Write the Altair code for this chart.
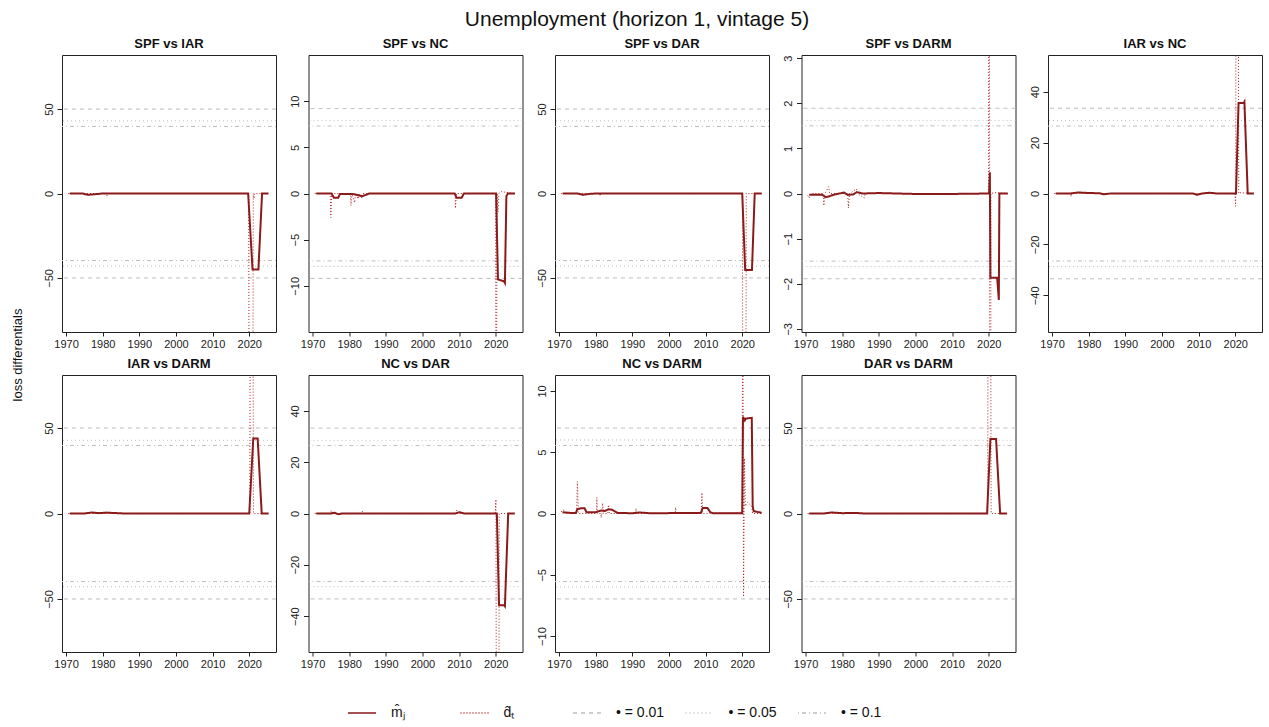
import altair as alt
import pandas as pd

FONT = "Liberation Sans"

# legend keys (labels) and styles
KEYS = ["m\u0302\u2c7c", "d\u0302\u209c", "\u2022 = 0.01", "\u2022 = 0.05", "\u2022 = 0.1"]
COLORS = ["#8B1A1A", "#B22222", "#BEBEBE", "#BEBEBE", "#BEBEBE"]
DASHES = [[1, 0], [1, 2], [4, 4], [1, 3], [1, 3, 4, 3]]

PANELS = ["SPF vs IAR", "SPF vs NC", "SPF vs DAR", "SPF vs DARM", "IAR vs NC",
          "IAR vs DARM", "NC vs DAR", "NC vs DARM", "DAR vs DARM"]

# symmetric y-limits of each panel
YLIM = [82, 15, 82, 3.07, 54.4, 81, 54, 11.3, 81]
# critical values (0.01, 0.05, 0.1)
CRIT_01 = [50, 9.2, 50, 1.89, 33.5, 50, 33.3, 6.97, 50]
CRIT_05 = [43, 7.9, 43, 1.62, 28.7, 42.8, 28.5, 6.0, 42.8]
CRIT_10 = [39.7, 7.3, 39.7, 1.50, 26.5, 39.8, 26.5, 5.55, 39.8]
YTICKS = [[-50, 0, 50], [-10, -5, 0, 5, 10], [-50, 0, 50], [-3, -2, -1, 0, 1, 2, 3],
          [-40, -20, 0, 20, 40], [-50, 0, 50], [-40, -20, 0, 20, 40],
          [-10, -5, 0, 5, 10], [-50, 0, 50]]
XTICKS = [1970, 1980, 1990, 2000, 2010, 2020]

# m_j (solid) and d_t (dotted) series
M_X = [
    [1971, 1974.5, 1976, 1978, 1980, 2019.7, 2020.9, 2022.5, 2023.5, 2025.25],
    [1971, 1975.2, 1975.8, 1977.0, 1977.5, 1981, 1983.5, 1985.5, 2008.8, 2009.3, 2010.7, 2011.3,
     2020.1, 2020.6, 2022.2, 2022.5, 2022.9, 2023.3, 2025.25],
    [1971, 1975, 1976.5, 1978, 1980, 2020.0, 2020.8, 2022.65, 2023.4, 2025.3],
    [1971, 1974.5, 1975.5, 1976.5, 1978, 1980.5, 1981.5, 1983, 1984, 1985.5, 1990, 2000, 2010,
     2020.1, 2020.3, 2020.45, 2022.3, 2022.75, 2022.9, 2025.2],
    [1971, 1975, 1977, 1980, 1983, 1984, 1986, 2008.5, 2009.5, 2011, 2013, 2015, 2020.2, 2020.9,
     2022.3, 2022.5, 2023.4, 2025.1],
    [1971, 1975, 1977, 1979, 1981, 1984, 1986, 2020.0, 2021.1, 2022.3, 2023.4, 2025.3],
    [1971, 1975, 1976, 1977, 1978, 2009, 2010, 2011.5, 2020.3, 2020.9, 2022.3, 2022.5, 2023.4, 2025.2],
    [1971, 1973, 1974.6, 1975.0, 1976, 1977, 1977.5, 1980, 1981.5, 1982.5, 1983.5, 1984.5, 1986,
     1990, 1992, 1995, 2008.7, 2009.2, 2010.5, 2011.3, 2012, 2020.0, 2020.2, 2020.7, 2021.0,
     2022.6, 2022.85, 2023.1, 2025.3],
    [1971, 1975, 1977, 1980, 1984, 1986, 2019.55, 2020.45, 2022.0, 2023.1, 2025.0],
]
M_Y = [
    [0, 0, -0.8, -0.4, 0, 0, -45, -45, 0, 0],
    [0, 0, -0.45, -0.45, -0.05, -0.05, -0.3, 0, 0, -0.45, -0.45, 0,
     0, -9.3, -9.5, -9.7, -0.3, 0, 0],
    [0, 0, -0.8, -0.3, 0, 0, -45.3, -45.3, 0, 0],
    [-0.03, -0.03, -0.08, -0.06, -0.02, 0.02, -0.03, -0.02, 0.03, 0.0, 0.01, -0.01, -0.01,
     0.0, 0.47, -1.87, -1.87, -2.36, 0.0, 0.0],
    [0, 0, 0.4, 0.2, 0.1, -0.3, 0, 0, -0.5, 0, 0.3, 0, 0, 35.5, 35.5, 36.0, 0, 0],
    [0, 0, 0.6, 0.2, 0.5, 0.2, 0, 0, 43.8, 43.8, 0, 0],
    [0, 0, 0.3, -0.3, 0, 0, 0.5, 0, 0, -35.8, -35.8, -36.2, 0, 0],
    [0.1, 0.05, 0.05, 0.35, 0.42, 0.42, 0.1, 0.1, 0.25, 0.2, 0.35, 0.3, 0.05,
     0.02, 0.08, 0.02, 0.05, 0.45, 0.45, 0.1, 0.02, 0.02, 7.9, 7.6, 7.75,
     7.8, 0.6, 0.2, 0.05],
    [0, 0, 0.6, 0.2, 0.3, 0, 0, 43.5, 43.5, 0, 0],
]
D_X = [
    [1970.6, 1975, 1975.2, 1975.4, 1981, 1981.2, 1981.4, 2019.85, 2020.0, 2020.95, 2021.1, 2021.3,
     2021.5, 2025.25],
    [1970.6, 1974.8, 1975.0, 1975.25, 1980.3, 1980.5, 1980.75, 1981.5, 1981.75, 1982.5, 1982.75,
     1983.5, 1983.75, 2008.9, 2009.0, 2009.25, 2019.95, 2020.1, 2020.35, 2020.6, 2020.85, 2021.5,
     2025.25],
    [1970.6, 1981, 1981.2, 1981.4, 2020.05, 2020.2, 2020.95, 2021.1, 2025.3],
    [1970.6, 1971, 1971.5, 1974.8, 1975, 1975.3, 1976.3, 1976.6, 1981.5, 1981.7, 1982, 1983.9,
     1984.2, 1986, 1986.3, 2019.95, 2020.1, 2020.35, 2020.6, 2021.6, 2025.2],
    [1970.6, 1975, 1975.2, 1975.4, 2019.95, 2020.1, 2020.3, 2020.75, 2020.95, 2021.2, 2025.1],
    [1970.6, 1981, 1981.2, 1981.4, 2020.15, 2020.3, 2021.0, 2021.15, 2025.3],
    [1970.6, 1975, 1975.1, 1975.3, 1983.5, 1983.6, 1983.8, 2009.2, 2009.3, 2009.5, 2019.85,
     2020.05, 2020.25, 2020.8, 2020.95, 2025.2],
    [1970.6, 1971, 1971.3, 1971.6, 1974.8, 1975.0, 1975.25, 1980.2, 1980.3, 1980.5, 1981.4,
     1981.5, 1981.7, 1981.9, 1982.1, 1983.3, 1983.5, 1983.7, 1990.9, 1991, 1991.2, 2001.7,
     2001.8, 2002, 2008.8, 2009, 2009.2, 2019.95, 2020.15, 2020.35, 2020.6, 2020.85, 2021.5,
     2022.6, 2022.8, 2025.3],
    [1970.6, 2019.7, 2019.85, 2020.5, 2020.65, 2025.0],
]
D_Y = [
    [0, 0, -1.0, 0, 0, -1.5, 0, 0, -180, -180, 0, -3, 0, 0],
    [0, 0, -2.6, 0, 0, -1.3, 0, -1.0, 0, -0.6, 0, -0.5, 0, 0, -1.6, 0, 0, -40, 0, -2, 0, 0.2, 0],
    [0, 0, -1.5, 0, 0, -180, -180, 0, 0],
    [-0.05, -0.1, 0, 0, -0.27, 0, 0.15, 0, 0, -0.32, 0, 0.1, 0, -0.1, 0, 0, 25, -25, 0, 0.02, 0],
    [0, 0, -1.2, 0, 0, -5.0, 150, 150, 0, 0.3, 0],
    [0, 0, 1.5, 0, 0, 150, 150, 0, 0],
    [0, 0, 1.2, 0, 0, 0.8, 0, 0, 1.3, 0, 0, 5.5, -150, -150, 0, 0],
    [0.2, 0, 0.3, 0, 0, 2.6, 0, 0, 1.3, 0, 0, -0.35, 0, 0.85, 0, 0, 0.7, 0, 0, 0.4, 0, 0,
     0.5, 0, 0, 1.7, 0, 0.1, 20, -6.8, 4.5, 0.6, 0.9, 0.6, 0, 0],
    [0, 0, 150, 150, 0, 0],
]

XDOM = [1968.9, 2027.3]
W, H = 214, 277

shared_legend = alt.Legend(
    title=None, orient="none", legendX=285, legendY=643, direction="horizontal",
    columns=5, gridAlign="all", symbolType="stroke", symbolSize=784,
    symbolStrokeWidth=1.5, labelFontSize=14, labelFont=FONT, labelColor="#111",
    labelOffset=14, columnPadding=17.5, labelLimit=200,
)
color_enc = alt.Color("key:N", scale=alt.Scale(domain=KEYS, range=COLORS), legend=shared_legend)
dash_enc = alt.StrokeDash("key:N", scale=alt.Scale(domain=KEYS, range=DASHES), legend=shared_legend)


def make_panel(i, ytitle=False):
    lim = YLIM[i]
    xs = alt.Scale(domain=XDOM, nice=False, zero=False)
    ys = alt.Scale(domain=[-lim, lim], nice=False, zero=False)
    xax = alt.Axis(values=XTICKS, format="d", tickSize=4, labelPadding=2, domain=False,
                   grid=False, title=None, labelFontSize=11)
    yargs = dict(values=YTICKS[i], format="d", labelAngle=270, labelAlign="center",
                 labelBaseline="bottom", tickSize=5, labelPadding=3, domain=False,
                 grid=False, labelFontSize=11)
    if ytitle:
        yargs.update(title="loss differentials", titleX=-44.5, titleY=299.5, titleAngle=270,
                     titleAlign="center", titleBaseline="middle", titleFontSize=13,
                     titleFontWeight="normal", titleFont=FONT, titleColor="#111")
    else:
        yargs.update(title=None)
    yax = alt.Axis(**yargs)

    crit = pd.DataFrame({
        "y": [CRIT_01[i], -CRIT_01[i], CRIT_05[i], -CRIT_05[i], CRIT_10[i], -CRIT_10[i]],
        "key": [KEYS[2], KEYS[2], KEYS[3], KEYS[3], KEYS[4], KEYS[4]],
    })
    mdf = pd.DataFrame({"x": M_X[i], "y": M_Y[i], "key": KEYS[0]})
    ddf = pd.DataFrame({"x": D_X[i], "y": D_Y[i], "key": KEYS[1]})

    rules = alt.Chart(crit).mark_rule(strokeWidth=1).encode(
        y=alt.Y("y:Q", scale=ys, axis=yax), color=color_enc, strokeDash=dash_enc)
    dline = alt.Chart(ddf).mark_line(strokeWidth=1, clip=True).encode(
        x=alt.X("x:Q", scale=xs, axis=xax), y=alt.Y("y:Q", scale=ys, axis=yax),
        color=color_enc, strokeDash=dash_enc)
    mline = alt.Chart(mdf).mark_line(strokeWidth=2, clip=True).encode(
        x=alt.X("x:Q", scale=xs, axis=xax), y=alt.Y("y:Q", scale=ys, axis=yax),
        color=color_enc, strokeDash=dash_enc)
    return alt.layer(rules, dline, mline).properties(
        width=W, height=H,
        title=alt.TitleParams(PANELS[i], fontSize=13, fontWeight="bold", font=FONT,
                              color="#111", offset=4, frame="group"),
    )


panels = [make_panel(i, ytitle=(i == 0)) for i in range(9)]

chart = alt.concat(
    *panels, columns=5, spacing={"row": 43, "column": 32.5}, bounds="flush"
).resolve_scale(
    x="independent", y="independent", color="shared", strokeDash="shared"
).properties(
    title=alt.TitleParams("Unemployment (horizon 1, vintage 5)", fontSize=21, font=FONT,
                          fontWeight="normal", anchor="middle", offset=8, color="#111"),
    padding={"left": 11, "top": 8, "right": 5, "bottom": 5},
).configure_view(stroke="#222", strokeWidth=1).configure_axis(
    labelFont=FONT, labelColor="#222", tickColor="#222"
)

chart.save("out.html", embed_options={"renderer": "svg", "actions": False})
